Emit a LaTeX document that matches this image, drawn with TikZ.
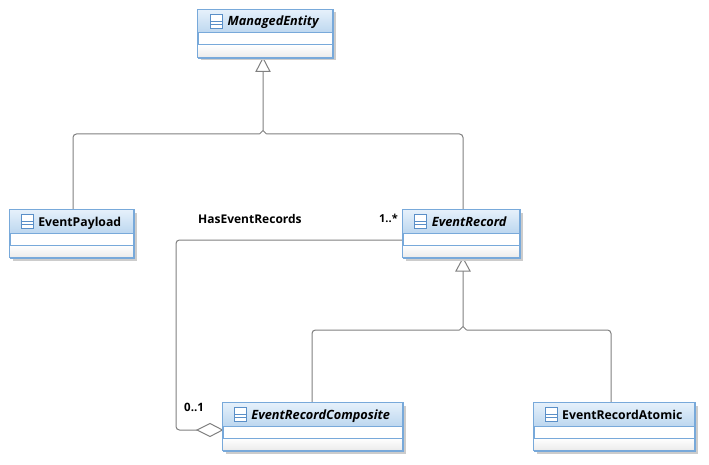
\documentclass[tikz,border=0pt]{standalone}
\usepackage{fontspec}
\setmainfont{Open Sans}
\usetikzlibrary{calc}
\definecolor{cborder}{HTML}{78A9DA}
\definecolor{chead}{HTML}{BDD7EF}
\definecolor{cheadtop}{HTML}{E6F1FB}
\definecolor{cline}{HTML}{808080}
\definecolor{cfoot}{HTML}{EBEBEB}
\definecolor{cicon}{HTML}{5A8FC8}
\tikzset{
  x=1pt,y=-1pt,
  classbox/.style={draw=cborder,line width=1.3pt,fill=white,rectangle,inner sep=0pt},
  conn/.style={draw=cline,line width=1pt,rounded corners=3.5pt},
  caret/.style={draw=cline,line width=1pt},
  triangletip/.style={draw=cline,line width=1pt,fill=white,line join=miter},
  labeltext/.style={text=black,inner sep=0pt},
  rolelabel/.style={font=\fontsize{12}{14}\selectfont\bfseries,text=black,inner sep=0pt,anchor=west},
}
% name, x1, y1, x2, y2, font, text
\newcommand{\umlclass}[7]{%
  \fill[black!20] (#2+3,#3+3) rectangle (#4+3,#5+3);
  \node[classbox,anchor=north west,
        minimum width={(#4-#2)*1pt},minimum height={(#5-#3)*1pt}] (#1) at (#2,#3) {};
  \shade[top color=cheadtop,bottom color=chead] (#2,#3) rectangle (#4,#3+23.5);
  \shade[top color=white,bottom color=cfoot] (#2,#3+35.5) rectangle (#4,#5);
  \draw[cborder,line width=1.3pt] (#2,#3) rectangle (#4,#5);
  \draw[cborder,line width=1pt] (#2,#3+23.5) -- (#4,#3+23.5) (#2,#3+35.5) -- (#4,#3+35.5);
  \node[labeltext,font=#6,anchor=base] (#1-label) at ({(#2+#4)/2+8},#3+16.5) {#7};
  \draw[cicon,line width=.9pt,fill=white] let \p1=(#1-label.west) in
     (\x1-17,#3+4.5) rectangle (\x1-5,#3+18.5)
     (\x1-17,#3+12) -- (\x1-5,#3+12) (\x1-17,#3+15) -- (\x1-5,#3+15);
}
\newcommand{\ifont}{\fontsize{12.75}{15}\selectfont\bfseries\itshape}
\newcommand{\rfont}{\fontsize{12.25}{15}\selectfont\bfseries}
\begin{document}
\begin{tikzpicture}
\useasboundingbox (0,0) rectangle (709,465);
\fill[white] (0,0) rectangle (709,465);

% connectors
\coordinate (t1) at (263,71.5);
\coordinate (t2) at (463,271);
\coordinate (tip2) at (463,258);
\coordinate (tip1) at (263,58);
\coordinate (dia) at (197,430);

\draw[conn] (73,209) -- (73,134) -- (259.5,134);
\draw[conn] (463,209) -- (463,134) -- (266.5,134);
\draw[caret] (259.5,134) -- (263,130.5) -- (266.5,134) (263,130.5) -- (t1);
\draw[conn] (312,403) -- (312,330) -- (459.5,330);
\draw[conn] (611,403) -- (611,330) -- (466.5,330);
\draw[caret] (459.5,330) -- (463,326.5) -- (466.5,330) (463,326.5) -- (t2);
\draw[conn] (402.5,240) -- (176,240) -- (176,430) -- (dia);

\draw[triangletip] (tip1) -- (270,71.5) -- (256,71.5) -- cycle;
\draw[triangletip] (tip2) -- (470,271) -- (456,271) -- cycle;
\draw[triangletip] (222.5,430) -- (210,423.5) -- (197,430) -- (210,436.5) -- cycle;

% classes
\umlclass{me}{197.5}{9.5}{333}{57.5}{\ifont}{ManagedEntity}
\umlclass{ep}{9.5}{209.5}{134}{257.5}{\rfont}{EventPayload}
\umlclass{er}{402.5}{209.5}{520}{257.5}{\ifont}{EventRecord}
\umlclass{erc}{222.5}{402.5}{403}{450.5}{\ifont}{EventRecordComposite}
\umlclass{era}{533.5}{402.5}{695}{450.5}{\rfont}{EventRecordAtomic}

% labels
\node[rolelabel] (l1) at (198,218.5) {HasEventRecords};
\node[rolelabel,font=\fontsize{11}{13}\selectfont\bfseries] (l2) at (379,218.5) {1..*};
\node[rolelabel,font=\fontsize{11.5}{13}\selectfont\bfseries] (l3) at (184,407.5) {0..1};
\end{tikzpicture}
\end{document}
